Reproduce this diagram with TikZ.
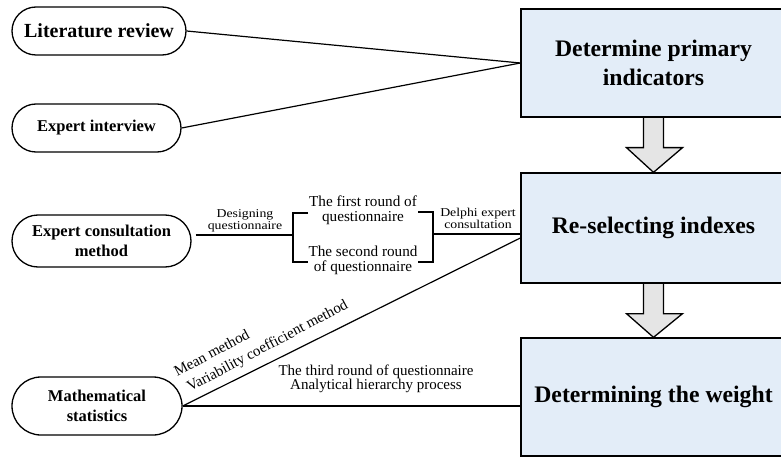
\documentclass[tikz,border=0pt]{standalone}
\usepackage{fontspec}
\setmainfont{Liberation Serif}
\usetikzlibrary{shapes.misc,calc,backgrounds}
\definecolor{boxfill}{RGB}{227,237,248}
\definecolor{arrfill}{RGB}{229,229,229}
\tikzset{
  pill/.style={rounded rectangle, draw=black, line width=1.3pt, inner sep=0pt, align=center, font=\bfseries\fontsize{16.5}{20}\selectfont},
  bigbox/.style={rectangle, draw=black, line width=1.3pt, fill=boxfill, inner sep=0pt, align=center, minimum width=265pt, font=\bfseries\fontsize{23.7}{29.5}\selectfont},
  blk/.style={draw=black, line width=1.3pt, fill=arrfill, line join=miter},
  conn/.style={draw=black, line width=1.2pt},
  smalllab/.style={inner sep=0pt, align=center, xscale=1.15, transform shape, font=\fontsize{12}{10}\selectfont},
  midlab/.style={inner sep=0pt, align=center, font=\fontsize{15.2}{15}\selectfont}
}
\begin{document}
\begin{tikzpicture}[x=1pt,y=-1pt]
\useasboundingbox (0,0) rectangle (781,457);
\clip (0,0) rectangle (781,457);
% left pills
\node[pill, minimum width=174pt, minimum height=48pt, font=\bfseries\fontsize{20}{22}\selectfont] (lit) at (99,31) {Literature review};
\node[pill, minimum width=169pt, minimum height=48pt] (interview) at (96.5,128) {Expert interview};
\node[pill, minimum width=179pt, minimum height=52pt] (consult) at (101.5,241) {Expert consultation\\method};
\node[pill, minimum width=170pt, minimum height=58pt] (math) at (97,406) {Mathematical\\statistics};
% right boxes
\node[bigbox, minimum height=108pt] (b1) at (653.5,63) {Determine primary\\indicators};
\node[bigbox, minimum height=110pt] (b2) at (653.5,228) {Re-selecting indexes};
\node[bigbox, minimum height=118pt] (b3) at (653.5,397) {Determining the weight};
% block arrows
\begin{scope}[on background layer]
\draw[blk] ($(b1.south)+(-10,0)$) -- ($(b1.south)+(-10,30)$) -- ($(b1.south)+(-27,30)$) -- (b2.north) -- ($(b1.south)+(29,30)$) -- ($(b1.south)+(10,30)$) -- ($(b1.south)+(10,0)$);
\draw[blk] ($(b2.south)+(-10,0)$) -- ($(b2.south)+(-10,30)$) -- ($(b2.south)+(-27,30)$) -- (b3.north) -- ($(b2.south)+(29,30)$) -- ($(b2.south)+(10,30)$) -- ($(b2.south)+(10,0)$);
\end{scope}
% connectors to box 1
\draw[conn] (lit.east) -- (b1.west);
\draw[conn] (interview.east) -- (b1.west);
% expert consultation branch
\coordinate (cstart) at ([shift={(4pt,6pt)}]consult.east);
\coordinate (bl) at (293,235);
\coordinate (br) at (433,234);
\draw[conn] (cstart) -- (bl);
\draw[conn] (308,213) -- (293,213) -- (293,262) -- (308,262);
\draw[conn] (418,212) -- (433,212) -- (433,262) -- (418,262);
\draw[conn] (br) -- (b2.west |- br);
\node[smalllab] (lab1) at (245,221) {Designing\\questionnaire};
\node[smalllab] (lab2) at (478,218) {Delphi expert\\consultation};
\node[midlab] (r1) at (363,210.5) {The first round of\\questionnaire};
\node[midlab] (r2) at (363,260.5) {The second round\\of questionnaire};
% mathematical statistics branch
\coordinate (diagend) at ([yshift=-10pt]b2.west);
\draw[conn] (math.east) -- (diagend);
\draw[conn] (math.east) -- (b3.west |- math.east);
\node[midlab, align=left, font=\fontsize{15}{19.5}\selectfont, rotate=28, anchor=south west] (mv) at (188,397) {Mean method\\\hspace*{4pt}Variability coefficient method};
\node[midlab, font=\fontsize{15}{14.5}\selectfont] (r3) at (376,379) {The third round of questionnaire\\Analytical hierarchy process};
\end{tikzpicture}
\end{document}
